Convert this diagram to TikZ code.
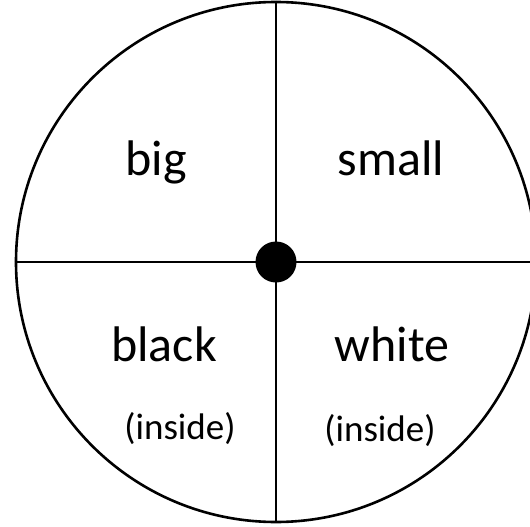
\documentclass[tikz,border=0pt]{standalone}
\usepackage{fontspec}
\setmainfont{Carlito}
\usepackage{tikz}
\tikzset{
  wheel/.style={draw, circle, line width=2.6pt, minimum size=520pt, inner sep=0pt},
  spoke/.style={line width=2.6pt},
  hub/.style={circle, fill=black, minimum size=41pt, inner sep=0pt},
  bigword/.style={anchor=base, inner sep=0pt, font=\fontsize{50}{60}\selectfont},
  smallword/.style={anchor=base, inner sep=0pt, font=\fontsize{37}{44}\selectfont},
}

\begin{document}
\begin{tikzpicture}[x=1pt, y=-1pt]
  \useasboundingbox (0,0) rectangle (530,527);
  \clip (0,0) rectangle (530,527);

  % Wheel and spokes
  \node[wheel] (disc) at (276,262) {};
  \draw[spoke] (disc.west) -- (disc.east);
  \draw[spoke] (disc.north) -- (disc.south);
  \node[hub] (hubdot) at (disc.center) {};

  % Quadrant words
  \node[bigword] (big) at (156,175) {big};
  \node[bigword] (small) at (391,175) {small};
  \node[bigword] (black) at (164,361) {black};
  \node[bigword] (white) at (392,361) {white};
  \node[smallword] (insideL) at (180,439) {(inside)};
  \node[smallword] (insideR) at (380,441) {(inside)};
\end{tikzpicture}
\end{document}
